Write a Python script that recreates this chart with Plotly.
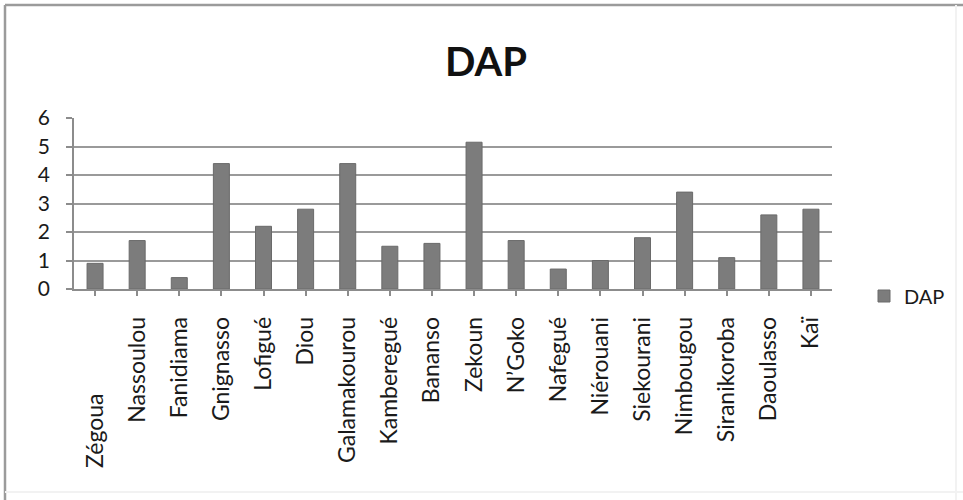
import plotly.graph_objects as go

# Category names (Zégoua carries trailing padding in its label)
villages = ["Zégoua" + "\u00a0" * 13, "Nassoulou", "Fanidiama", "Gnignasso", "Lofigué", "Diou",
            "Galamakourou", "Kamberegué", "Bananso", "Zekoun", "N\u2019Goko", "Nafegué",
            "Niérouani", "Siekourani", "Nimbougou", "Siranikoroba", "Daoulasso", "Kaï"]
dap = [0.9, 1.7, 0.4, 4.4, 2.2, 2.8, 4.4, 1.5, 1.6, 5.15, 1.7, 0.7, 1.0, 1.8, 3.4, 1.1, 2.6, 2.8]
y_ticks = [0, 1, 2, 3, 4, 5, 6]
series_name = "DAP"
chart_title = "DAP"

W, H = 963, 500
ml, mr, mt, mb = 74, 131, 118, 211
pw, ph = W - ml - mr, H - mt - mb

def px_x(p):
    return (p - ml) / pw

def px_y(p):
    return (H - mb - p) / ph

FONT = "Lato"

fig = go.Figure()
fig.add_trace(go.Bar(
    x=list(range(len(villages))), y=dap, name=series_name,
    marker=dict(color="#7c7c7c", line=dict(color="#6a6a6a", width=1)),
    showlegend=True,
))

fig.update_layout(
    width=W, height=H,
    margin=dict(l=ml, r=mr, t=mt, b=mb, pad=0),
    paper_bgcolor="white", plot_bgcolor="white",
    bargap=0.62,
    font=dict(family=FONT, color="#1a1a1a"),
    title=dict(text="<b>" + chart_title + "</b>", x=486 / W, xanchor="center",
               y=1 - 62 / H, yanchor="middle",
               font=dict(family=FONT, size=40, color="#111")),
    xaxis=dict(
        tickmode="array", tickvals=list(range(len(villages))), ticktext=villages,
        range=[-0.5, len(villages) - 0.5],
        tickangle=-90, tickfont=dict(family=FONT, size=23, color="#1a1a1a"),
        showgrid=False, showline=True, linecolor="#8c8c8c", linewidth=1.5,
        ticks="outside", ticklen=5, tickcolor="#8c8c8c", tickwidth=1.5,
        tickson="boundaries", ticklabelstandoff=12,
        zeroline=False,
    ),
    yaxis=dict(
        range=[0, 6], tickmode="array", tickvals=y_ticks,
        tickfont=dict(family=FONT, size=21, color="#1a1a1a"),
        showgrid=True, gridcolor="#9a9a9a", gridwidth=1.5,
        showline=True, linecolor="#8c8c8c", linewidth=1.5,
        ticks="outside", ticklen=6, tickcolor="#8c8c8c", tickwidth=1.5,
        ticklabelstandoff=12, zeroline=False,
    ),
    legend=dict(x=px_x(864), xanchor="left", y=px_y(296), yanchor="middle",
                font=dict(family=FONT, size=20, color="#1a1a1a"),
                bgcolor="rgba(0,0,0,0)", itemwidth=30),
    shapes=[
        # chart frame: top and left edges strong, right and bottom faint
        dict(type="line", xref="paper", yref="paper",
             x0=px_x(5), x1=px_x(980), y0=px_y(5), y1=px_y(5),
             line=dict(color="#9b9b9b", width=2.5)),
        dict(type="line", xref="paper", yref="paper",
             x0=px_x(5), x1=px_x(5), y0=px_y(5), y1=px_y(520),
             line=dict(color="#9b9b9b", width=2.5)),
        dict(type="line", xref="paper", yref="paper",
             x0=px_x(956), x1=px_x(956), y0=px_y(5), y1=px_y(520),
             line=dict(color="#f2f2f2", width=2)),
        dict(type="line", xref="paper", yref="paper",
             x0=px_x(5), x1=px_x(980), y0=px_y(492), y1=px_y(492),
             line=dict(color="#f2f2f2", width=2)),
    ],
)

fig.write_html("out.html")
